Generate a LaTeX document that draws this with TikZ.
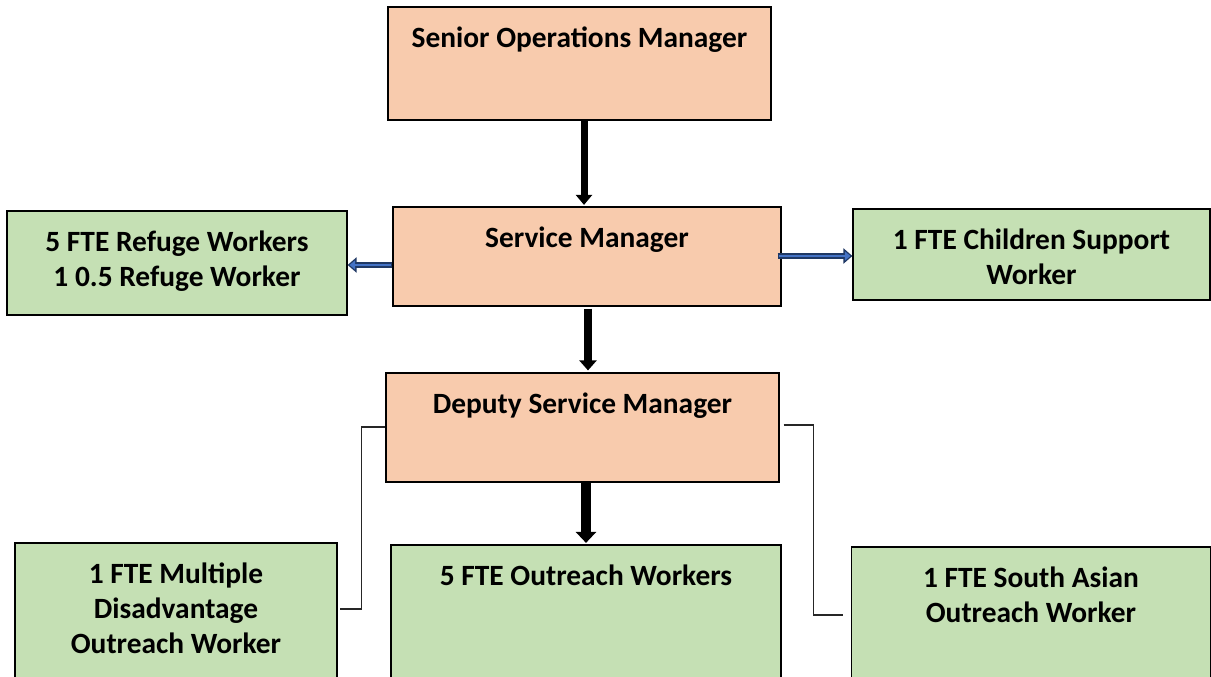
\documentclass[tikz,border=0pt]{standalone}
\usepackage{fontspec}
\setmainfont{Carlito}
\usetikzlibrary{arrows.meta,calc}
\definecolor{boxorange}{HTML}{F8CBAD}
\definecolor{boxgreen}{HTML}{C5E0B4}
\definecolor{navy}{HTML}{1F3864}
\definecolor{midblue}{HTML}{4472C4}
\tikzset{
  box/.style={draw=black, line width=1.2pt, inner sep=0pt},
  mgr/.style={box, fill=boxorange},
  wrk/.style={box, fill=boxgreen},
  lbl/.style={anchor=north, yshift=-20pt, inner sep=0pt, align=center,
    font=\fontsize{29.4}{35}\selectfont\bfseries},
  blk/.style={draw=black, line width=#1},
  bluout/.style={draw=navy, line width=6pt, -{Triangle[width=15pt,length=9pt]}},
  bluin/.style={draw=midblue, line width=2.6pt, shorten >=2pt, -{Triangle[width=9pt,length=5.5pt]}},
  elbow/.style={draw=black!85, line width=1.5pt},
}
\begin{document}
\begin{tikzpicture}[x=1pt,y=-1pt]
\useasboundingbox (0,0) rectangle (1211,677);
\clip (0,0) rectangle (1211,677);
\fill[white] (0,0) rectangle (1211,677);

\node[mgr, minimum width=383pt, minimum height=113pt,
  label={[lbl]north:Senior Operations Manager}] (som) at (579.5,63.5) {};
\node[mgr, minimum width=388pt, minimum height=99pt,
  label={[lbl]north:Service Manager}] (sm) at (587,256.5) {};
\node[mgr, minimum width=393pt, minimum height=109pt,
  label={[lbl]north:Deputy Service Manager}] (dsm) at (582.5,427.5) {};
\node[wrk, minimum width=340pt, minimum height=104pt,
  label={[lbl]north:5 FTE Refuge Workers\\1 0.5 Refuge Worker}] (rw) at (177,263) {};
\node[wrk, minimum width=357pt, minimum height=91pt,
  label={[lbl]north:1 FTE Children Support\\Worker}] (csw) at (1031.5,254.5) {};
\node[wrk, minimum width=322pt, minimum height=147pt,
  label={[lbl]north:1 FTE Multiple\\Disadvantage\\Outreach Worker}] (md) at (176,616.5) {};
\node[wrk, minimum width=390pt, minimum height=145pt,
  label={[lbl]north:5 FTE Outreach Workers}] (ow) at (586,617.5) {};
\node[wrk, minimum width=359pt, minimum height=143pt,
  label={[lbl]north:1 FTE South Asian\\Outreach Worker}] (saw) at (1031,618.5) {};

% black arrows
\draw[blk=7pt, -{Triangle[width=16pt,length=10pt]}]
  ([xshift=4.5pt]som.south) -- ([xshift=-3pt,yshift=1.5pt]sm.north);
\draw[blk=7.5pt, -{Triangle[width=17pt,length=10pt]}]
  ([xshift=1pt,yshift=-2pt]sm.south) -- ([xshift=5.5pt,yshift=2pt]dsm.north);
\draw[blk=10pt, -{Triangle[width=20pt,length=11pt]}]
  ([xshift=3.5pt]dsm.south) -- ([yshift=1.5pt]ow.north);

% blue arrows
\draw[bluout] ([yshift=-8.5pt]sm.west) coordinate (la) -- (la -| rw.east);
\draw[bluin] ([xshift=-1pt]la) -- (la -| rw.east);
\draw[bluout] ([xshift=-4pt,yshift=0.5pt]sm.east) coordinate (ra) -- (ra -| csw.west);
\draw[bluin] ([xshift=1pt]ra) -- (ra -| csw.west);

% elbow connectors
\draw[elbow] ([yshift=0.5pt]dsm.west) -- ++(-24,0) |- ([xshift=2pt,yshift=7.5pt]md.east);
\draw[elbow] ([xshift=4pt,yshift=2.5pt]dsm.east) -- ++(30,0) |- ([xshift=-8pt,yshift=3.5pt]saw.west);
\end{tikzpicture}
\end{document}
